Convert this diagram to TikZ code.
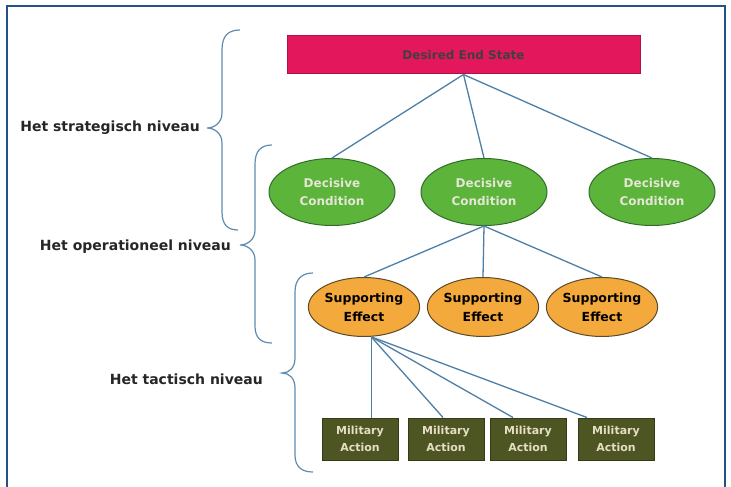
\documentclass[tikz,border=0pt]{standalone}
\usepackage{fontspec}
\setmainfont{DejaVu Sans}
\usetikzlibrary{shapes.geometric}
\definecolor{frameblue}{HTML}{23528A}
\definecolor{linkblue}{HTML}{4E7FA6}
\definecolor{bracecol}{HTML}{5E8CB2}
\definecolor{endred}{HTML}{E3175C}
\definecolor{enddark}{HTML}{B0104A}
\definecolor{condgreen}{HTML}{5DB43A}
\definecolor{conddark}{HTML}{2F6E2A}
\definecolor{effor}{HTML}{F4A93D}
\definecolor{effdark}{HTML}{5A4A2A}
\definecolor{actolive}{HTML}{4D5623}
\definecolor{actdark}{HTML}{343B16}
\definecolor{acttext}{HTML}{E6DEC4}
\definecolor{condtext}{HTML}{E4E6D8}
\begin{document}
\begin{tikzpicture}[x=1pt,y=-1pt,
  endbox/.style={draw=enddark,fill=endred,line width=1pt,minimum width=353pt,minimum height=38pt,inner sep=0pt,
    font=\bfseries\fontsize{12}{14}\selectfont,text=black!75},
  condnode/.style={ellipse,draw=conddark,fill=condgreen,line width=1pt,minimum width=126pt,minimum height=67pt,inner sep=0pt,
    align=center,font=\bfseries\fontsize{12}{18}\selectfont,text=condtext},
  effnode/.style={ellipse,draw=effdark,fill=effor,line width=1pt,minimum width=90pt,minimum height=59pt,inner sep=0pt,
    align=center,font=\bfseries\fontsize{12.5}{19}\selectfont,text=black},
  actnode/.style={draw=actdark,fill=actolive,line width=1pt,minimum width=76pt,minimum height=42pt,inner sep=0pt,
    align=center,font=\bfseries\fontsize{11}{17}\selectfont,text=acttext},
  link/.style={draw=linkblue,line width=1.3pt},
  bracestyle/.style={draw=bracecol,line width=1.2pt},
  levellabel/.style={font=\bfseries\fontsize{14}{16}\selectfont,text=black!85,inner sep=0pt}
]
\useasboundingbox (0,0) rectangle (731,487);
\fill[white] (0,0) rectangle (731,487);
\draw[frameblue,line width=1.6pt] (7,500) -- (7,6) -- (725,6) -- (725,500);

% nodes
\node[endbox] (des) at (463.5,55) {Desired End State};
\node[condnode] (dc1) at (332,192) {Decisive\\Condition};
\node[condnode] (dc2) at (484,192) {Decisive\\Condition};
\node[condnode] (dc3) at (652,192) {Decisive\\Condition};
\node[effnode] (se1) at (364,307) {Supporting\\Effect};
\node[effnode] (se2) at (483,307) {Supporting\\Effect};
\node[effnode] (se3) at (602,307) {Supporting\\Effect};
\node[actnode] (ma1) at (360,439) {Military\\Action};
\node[actnode] (ma2) at (446,439) {Military\\Action};
\node[actnode] (ma3) at (528,439) {Military\\Action};
\node[actnode] (ma4) at (616,439) {Military\\Action};

% connectors
\draw[link] (des.south) -- (dc1.north);
\draw[link] (des.south) -- (dc2.north);
\draw[link] (des.south) -- (dc3.north);
\draw[link] (dc2.south) -- (se1.north);
\draw[link] (dc2.south) -- (se2.north);
\draw[link] (dc2.south) -- (se3.north);
\coordinate (hub) at ([xshift=2pt]se1.-80);
\draw[link] (hub) -- (hub |- ma1.north);
\draw[link] (hub) -- ([xshift=-3pt]ma2.north);
\draw[link] (hub) -- ([xshift=-15pt]ma3.north);
\draw[link] (hub) -- ([xshift=-29pt]ma4.north);

% level labels
\node[levellabel,anchor=east] (lstrat) at (200,128) {Het strategisch niveau};
\node[levellabel,anchor=east] (loper) at (231,247) {Het operationeel niveau};
\node[levellabel,anchor=east] (ltact) at (263,379) {Het tactisch niveau};

% braces
\draw[bracestyle] (240,30) .. controls (228,30) and (222,36) .. (222,50) -- (222,113)
  .. controls (222,123) and (214,128) .. (207,128)
  .. controls (214,128) and (222,133) .. (222,143) -- (222,212)
  .. controls (222,225) and (228,230) .. (238,230);
\draw[bracestyle] (272,145) .. controls (261,145) and (255,151) .. (255,164) -- (255,230)
  .. controls (255,240) and (247,245) .. (240,245)
  .. controls (247,245) and (255,250) .. (255,260) -- (255,326)
  .. controls (255,338) and (261,343) .. (272,343);
\draw[bracestyle] (313,273) .. controls (302,273) and (295,279) .. (295,292) -- (295,358)
  .. controls (295,368) and (289,373) .. (282,373)
  .. controls (289,373) and (295,378) .. (295,388) -- (295,455)
  .. controls (295,467) and (302,472) .. (313,472);
\end{tikzpicture}
\end{document}
